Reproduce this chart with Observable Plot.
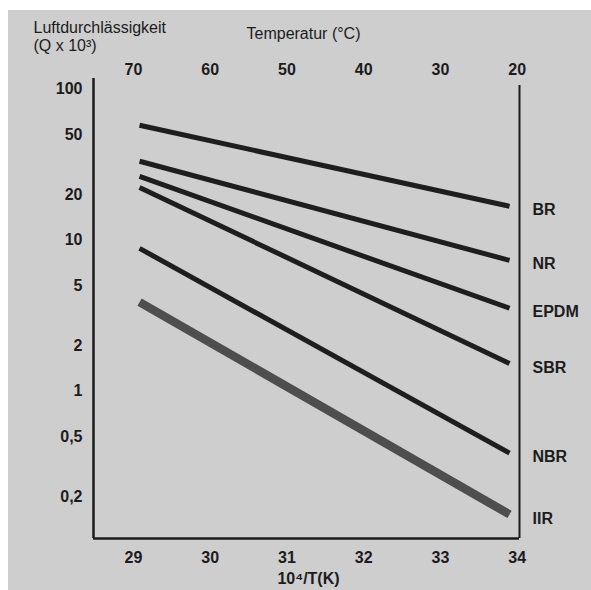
<!DOCTYPE html>
<html>
<head>
<meta charset="utf-8">
<script src="https://cdn.jsdelivr.net/npm/d3@7"></script>
<script src="https://cdn.jsdelivr.net/npm/@observablehq/plot@0.6"></script>
<style>
  html, body { margin: 0; padding: 0; background: #ffffff; }
  #bg { position: absolute; left: 8px; top: 10px; width: 583px; height: 580px; background: #cecece; }
  #chart { position: absolute; left: 0; top: 0; }
</style>
</head>
<body>
<div id="bg"></div>
<div id="chart"></div>
<script>
// Data
const materials = ["BR", "NR", "EPDM", "SBR", "NBR", "IIR"];
const xRange = [29.08, 33.9];               // 10^4/T(K) where each line starts / ends
const startValues = [57.8, 33.4, 26.5, 22.4, 8.85, 3.9];   // Q x 10^3 at left end
const endValues = [16.8, 7.37, 3.55, 1.53, 0.39, 0.153];   // Q x 10^3 at right end
const xTicks = [29, 30, 31, 32, 33, 34];
const tempLabels = [70, 60, 50, 40, 30, 20];  // Temperatur (°C) on the top axis
const yTicks = [100, 50, 20, 10, 5, 2, 1, 0.5, 0.2];
const xDomain = [28.48, 34.03];
const yDomain = [0.106, 118];
const rightAxisTop = 106;

const rows = [];
materials.forEach((m, i) => {
  rows.push({material: m, x: xRange[0], q: startValues[i]});
  rows.push({material: m, x: xRange[1], q: endValues[i]});
});
const labels = materials.map((m, i) => ({material: m, q: endValues[i]}));

const font = "'Liberation Sans', Arial, Helvetica, sans-serif";
const ink = "#1c1c1c";

const chart = Plot.plot({
  width: 591,
  height: 590,
  marginLeft: 93,
  marginRight: 72,
  marginTop: 78,
  marginBottom: 52,
  style: {background: "transparent", fontFamily: font, color: ink, overflow: "visible"},
  x: {domain: xDomain, axis: null},
  y: {type: "log", domain: yDomain, axis: null},
  marks: [
    Plot.ruleX([xDomain[0]], {y1: yDomain[0], y2: yDomain[1], stroke: ink, strokeWidth: 2.5}),
    Plot.ruleX([xDomain[1]], {y1: yDomain[0], y2: rightAxisTop, stroke: ink, strokeWidth: 2}),
    Plot.ruleY([yDomain[0]], {x1: xDomain[0], x2: xDomain[1], stroke: ink, strokeWidth: 2.5}),
    Plot.line(rows.filter(d => d.material !== "IIR"), {x: "x", y: "q", z: "material", stroke: "#1e1e1e", strokeWidth: 5, strokeLinecap: "butt"}),
    Plot.line(rows.filter(d => d.material === "IIR"), {x: "x", y: "q", z: "material", stroke: "#4e4e4e", strokeWidth: 8.5, strokeLinecap: "butt"}),
    Plot.text(labels, {y: "q", text: "material", frameAnchor: "right", dx: 13, dy: 4, textAnchor: "start", lineAnchor: "middle", fontSize: 16, fontWeight: "bold", fill: ink}),
    // y tick labels
    Plot.text(yTicks, {y: d => d, text: d => String(d).replace(".", ","), frameAnchor: "left", dx: -11, textAnchor: "end", lineAnchor: "middle", fontSize: 16, fontWeight: "bold", fill: ink}),
    // bottom tick labels
    Plot.text(xTicks, {x: d => d, text: d => String(d), frameAnchor: "bottom", dy: 19, lineAnchor: "middle", fontSize: 16, fontWeight: "bold", fill: ink}),
    // top tick labels (temperature)
    Plot.text(xTicks, {x: d => d, text: (d, i) => String(tempLabels[i]), frameAnchor: "top", dy: -9, lineAnchor: "middle", fontSize: 16, fontWeight: "bold", fill: ink}),
    Plot.text(["Luftdurchlässigkeit\n(Q x 10³)"], {frameAnchor: "top-left", dx: -60, dy: -59, textAnchor: "start", lineAnchor: "top", lineHeight: 1.15, fontSize: 16, fill: ink}),
    Plot.text(["Temperatur (°C)"], {frameAnchor: "top", dx: -3, dy: -40, lineAnchor: "bottom", fontSize: 16, fill: ink}),
    Plot.text(["10⁴/T(K)"], {frameAnchor: "bottom", dx: 2, dy: 45, lineAnchor: "bottom", fontSize: 16, fontWeight: "bold", fill: ink})
  ]
});
document.getElementById("chart").appendChild(chart);
</script>
</body>
</html>
